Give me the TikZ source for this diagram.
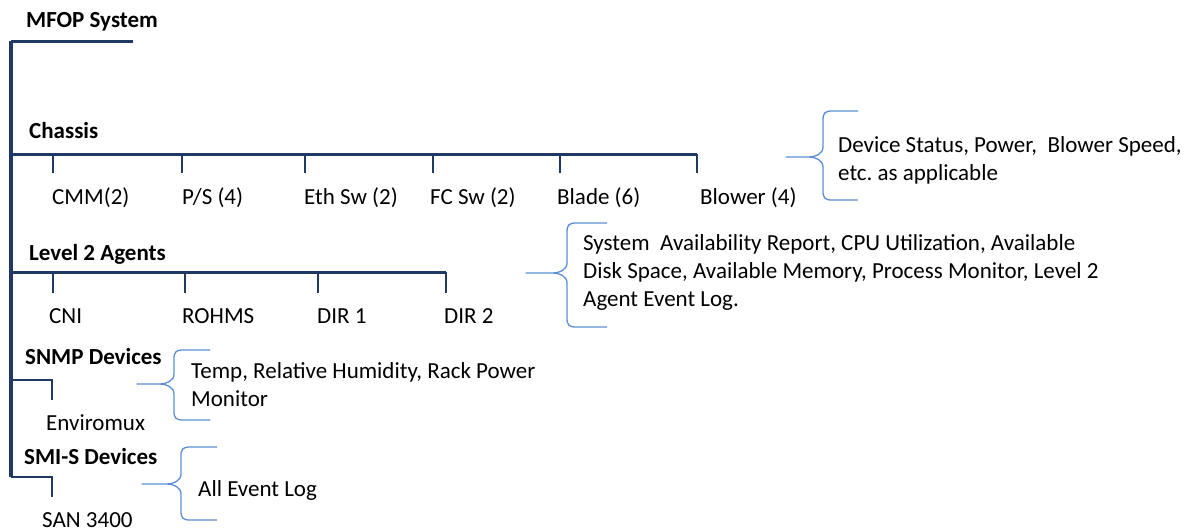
\documentclass[tikz,border=0pt]{standalone}
\usepackage{fontspec}
\setmainfont{Carlito}
\frenchspacing
\definecolor{navy}{RGB}{31,56,100}
\definecolor{bracecol}{RGB}{91,143,213}
\newcommand\mybrace[6]{% tipx tipy spinex top bottom endx
  \draw[brc] ({#6},{#4}) -- ({#3+9},{#4}) .. controls ({#3+2},{#4}) and ({#3},{#4+2}) .. ({#3},{#4+9})
    -- ({#3},{#2-10}) .. controls ({#3},{#2-3}) and ({#3-8},{#2}) .. ({#3-14},{#2}) -- ({#1},{#2})
    -- ({#3-14},{#2}) .. controls ({#3-8},{#2}) and ({#3},{#2+3}) .. ({#3},{#2+10})
    -- ({#3},{#5-9}) .. controls ({#3},{#5-2}) and ({#3+2},{#5}) .. ({#3+9},{#5}) -- ({#6},{#5});}
\begin{document}
\begin{tikzpicture}[x=1pt,y=-1pt,
  lbl/.style={anchor=base west,inner sep=0pt,font=\fontsize{23}{28}\selectfont\frenchspacing},
  head/.style={anchor=base west,inner sep=0pt,font=\fontsize{23}{28}\selectfont\bfseries},
  trunk/.style={draw=navy,line width=4.5pt},
  branch/.style={draw=navy,line width=3pt},
  tick/.style={draw=navy,line width=2.5pt},
  brc/.style={line width=1.3pt,line join=round}]
\useasboundingbox (0,0) rectangle (1201,531);
\tikzset{brc/.append style={draw=bracecol}}
% headings
\node[head] (mfop) at (26,27) {MFOP System};
\node[head] (chassis) at (29,138) {Chassis};
\node[head] (lvl2) at (29,260) {Level 2 Agents};
\node[head] (snmp) at (25,364) {SNMP Devices};
\node[head] (smis) at (24,464) {SMI-S Devices};
% chassis items
\node[lbl] (cmm) at (52,204) {CMM(2)};
\node[lbl] (ps) at (182,204) {P/S (4)};
\node[lbl] (eth) at (304,204) {Eth Sw (2)};
\node[lbl] (fc) at (430,204) {FC Sw (2)};
\node[lbl] (blade) at (557,204) {Blade (6)};
\node[lbl] (blower) at (700,204) {Blower (4)};
% level 2 items
\node[lbl] (cni) at (49,323) {CNI};
\node[lbl] (rohms) at (182,323) {ROHMS};
\node[lbl] (dir1) at (317,323) {DIR 1};
\node[lbl] (dir2) at (444,323) {DIR 2};
% devices
\node[lbl] (envi) at (46,430) {Enviromux};
\node[lbl] (san) at (42,527) {SAN 3400};
% descriptions
\node[lbl] (dchassis) at (838,152) {\begin{tabular}[t]{@{}l@{}}Device Status, Power,\ \ Blower Speed,\\etc. as applicable\end{tabular}};
\node[lbl] (dlvl2) at (583,250) {\begin{tabular}[t]{@{}l@{}}System\ \ Availability Report, CPU Utilization, Available\\Disk Space, Available Memory, Process Monitor, Level 2\\Agent Event Log.\end{tabular}};
\node[lbl] (dsnmp) at (191,378) {\begin{tabular}[t]{@{}l@{}}Temp, Relative Humidity, Rack Power\\Monitor\end{tabular}};
\node[lbl] (dsmis) at (198,496) {All Event Log};
% tree coordinates
\coordinate (top) at (11,41);
\coordinate (topend) at (133,41);
\coordinate (bot) at (11,477);
\coordinate (ch0) at (11,154);
\coordinate (ch1) at (697,154);
\coordinate (lv0) at (11,272);
\coordinate (lv1) at (446,272);
\coordinate (sn0) at (11,380);
\coordinate (sn1) at (52,380);
\coordinate (sm1) at (52,477);
% tree
\draw[branch] (topend) -- (top);
\draw[trunk] (top) -- (bot);
\draw[branch] (ch0) -- (ch1);
\draw[branch] (lv0) -- (lv1);
\draw[tick] (sn0) -- (sn1) -- ++(0,20);
\draw[tick] (bot) -- (sm1) -- ++(0,20);
\foreach \x in {53,182,305,433,560,697} \draw[tick] (\x,154) -- (\x,173);
\foreach \x in {53,185,318,446} \draw[tick] (\x,272) -- (\x,293);
% braces
\mybrace{786}{157}{823}{111}{200}{858}
\mybrace{526}{273}{567}{223}{327}{607}
\mybrace{137}{384}{174}{350}{420}{210}
\mybrace{142}{484}{181}{447}{520}{217}
\end{tikzpicture}
\end{document}
